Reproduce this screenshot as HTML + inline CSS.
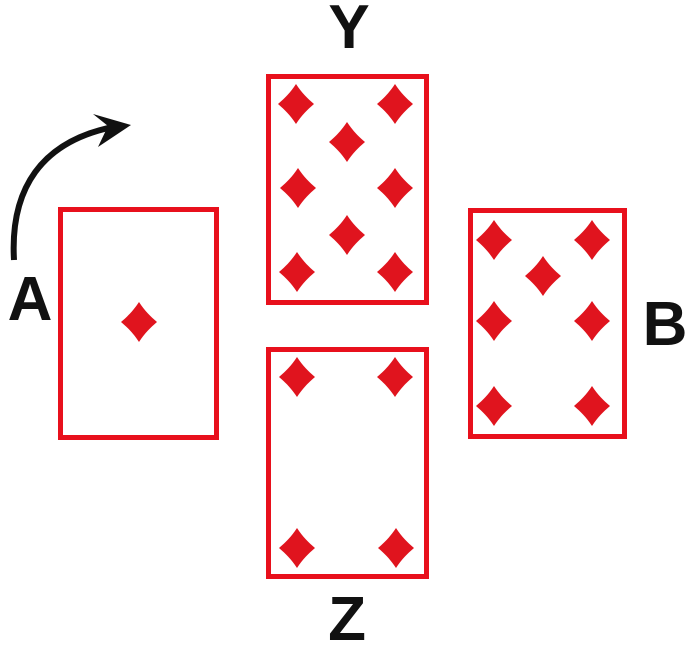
<!DOCTYPE html>
<html><head><style>
body{margin:0;width:700px;height:660px;background:#fff;overflow:hidden}
</style></head><body>
<svg width="700" height="660" viewBox="0 0 700 660" xmlns="http://www.w3.org/2000/svg">
<defs>
<path id="d" d="M0,-20 C6,-11 11,-6 18,0 C11,6 6,11 0,20 C-6,11 -11,6 -18,0 C-11,-6 -6,-11 0,-20Z" fill="#e0141e"/>
</defs>
<g fill="none" stroke="#e8101c" stroke-width="5">
<rect x="60.5" y="209.5" width="156" height="228"/>
<rect x="268.5" y="76.5" width="158" height="226"/>
<rect x="268.5" y="349.5" width="158" height="227"/>
<rect x="470.5" y="210.5" width="154" height="226"/>
</g>
<use href="#d" x="139" y="322"/>
<use href="#d" x="296" y="104"/><use href="#d" x="395" y="104"/>
<use href="#d" x="347" y="142"/>
<use href="#d" x="298" y="188"/><use href="#d" x="395" y="188"/>
<use href="#d" x="347" y="235"/>
<use href="#d" x="297" y="272"/><use href="#d" x="395" y="272"/>
<use href="#d" x="297" y="377"/><use href="#d" x="395" y="377"/>
<use href="#d" x="297" y="548"/><use href="#d" x="396" y="548"/>
<use href="#d" x="494" y="240"/><use href="#d" x="592" y="240"/>
<use href="#d" x="543" y="276"/>
<use href="#d" x="494" y="321"/><use href="#d" x="592" y="321"/>
<use href="#d" x="494" y="406"/><use href="#d" x="592" y="406"/>
<path d="M14,260 C10,190 40,140 118,126" fill="none" stroke="#111" stroke-width="6"/>
<path d="M131,125 L93,114 L108,126 L98,147 Z" fill="#111"/>
<g font-family="Liberation Sans, sans-serif" font-weight="bold" font-size="62" fill="#111" text-anchor="middle">
<text x="349" y="48">Y</text>
<text x="30" y="320">A</text>
<text x="665" y="345">B</text>
<text x="347" y="640">Z</text>
</g>
</svg>
</body></html>
